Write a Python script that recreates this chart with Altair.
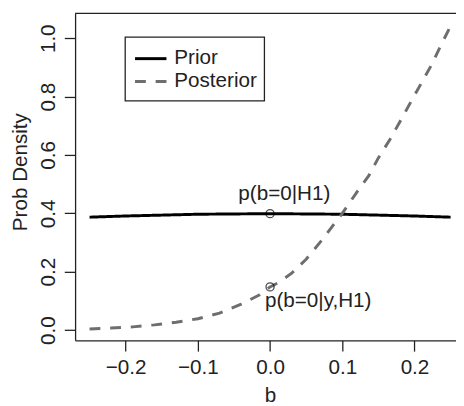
import altair as alt
import pandas as pd

# ---- data ----
prior_b = [-0.25, -0.20, -0.15, -0.10, -0.05, 0.00, 0.05, 0.10, 0.15, 0.20, 0.25]
prior_p = [0.387, 0.391, 0.394, 0.397, 0.398, 0.399, 0.398, 0.397, 0.394, 0.391, 0.387]

post_b = [-0.25, -0.22, -0.19, -0.16, -0.13, -0.10, -0.07, -0.04, -0.015, 0.0, 0.012,
          0.03, 0.05, 0.07, 0.087, 0.10, 0.12, 0.137, 0.15, 0.166, 0.18, 0.195,
          0.209, 0.223, 0.236, 0.25]
post_p = [0.004, 0.007, 0.011, 0.018, 0.027, 0.039, 0.058, 0.089, 0.12, 0.148, 0.163,
          0.195, 0.243, 0.303, 0.358, 0.400, 0.472, 0.530, 0.590, 0.653, 0.715, 0.782,
          0.844, 0.906, 0.973, 1.042]

point_b = [0.0, 0.0]
point_p = [0.399, 0.148]

label_text = ["p(b=0|H1)", "p(b=0|y,H1)"]
label_b = [0.0197, -0.007]
label_p = [0.445, 0.078]

x_ticks = [-0.2, -0.1, 0.0, 0.1, 0.2]
y_ticks = [0.0, 0.2, 0.4, 0.6, 0.8, 1.0]
legend_names = ["Prior", "Posterior"]

FONT = "Liberation Sans"
FS = 21
INK = "#222222"
GRAY = "#6e6e6e"

W, H = 387.7, 332.7

lines = pd.concat([
    pd.DataFrame({"b": prior_b, "p": prior_p, "s": "Prior"}),
    pd.DataFrame({"b": post_b, "p": post_p, "s": "Posterior"}),
])
pts = pd.DataFrame({"b": point_b, "p": point_p})
lab1 = pd.DataFrame({"b": label_b[:1], "p": label_p[:1], "t": label_text[:1]})
lab2 = pd.DataFrame({"b": label_b[1:], "p": label_p[1:], "t": label_text[1:]})

xs = alt.Scale(domain=[-0.27, 0.2575], nice=False, zero=False)
ys = alt.Scale(domain=[-0.035, 1.085], nice=False, zero=False)

xax = alt.Axis(values=x_ticks, format=".1f", title="b", grid=False,
               tickSize=11, labelPadding=23, labelBaseline="alphabetic",
               titleX=198.4, titleY=62.3, titleBaseline="alphabetic", titleAlign="center")
yax = alt.Axis(values=y_ticks, format=".1f", title="Prob Density", grid=False,
               tickSize=11, labelPadding=10.3, labelAngle=270, labelAlign="center",
               labelBaseline="alphabetic",
               titleAngle=270, titleX=-49.6, titleY=161, titleAlign="center",
               titleBaseline="alphabetic")

base_lines = alt.Chart(lines).mark_line(strokeWidth=3, clip=True).encode(
    x=alt.X("b:Q", scale=xs, axis=xax),
    y=alt.Y("p:Q", scale=ys, axis=yax),
    color=alt.Color("s:N", scale=alt.Scale(domain=legend_names, range=["black", GRAY]), legend=None),
    strokeDash=alt.StrokeDash("s:N", scale=alt.Scale(domain=legend_names, range=[[1, 0], [11, 10]]), legend=None),
    detail="s:N",
)

circles = alt.Chart(pts).mark_point(shape="circle", filled=False, size=68, color="black",
                                    strokeWidth=1.3).encode(
    x=alt.X("b:Q", scale=xs), y=alt.Y("p:Q", scale=ys))

t1 = alt.Chart(lab1).mark_text(font=FONT, fontSize=FS, align="center", baseline="alphabetic",
                               color=INK).encode(
    x=alt.X("b:Q", scale=xs), y=alt.Y("p:Q", scale=ys), text="t:N")
t2 = alt.Chart(lab2).mark_text(font=FONT, fontSize=FS, align="left", baseline="alphabetic",
                               color=INK).encode(
    x=alt.X("b:Q", scale=xs), y=alt.Y("p:Q", scale=ys), text="t:N")

# top border of the box
top_rule = alt.Chart(pd.DataFrame({"k": [0]})).mark_rule(color=INK, strokeWidth=1.3).encode(
    x=alt.value(0), x2=alt.value(W), y=alt.value(0))

# legend box
leg_df = pd.DataFrame({"k": [0]})
leg_box = alt.Chart(leg_df).mark_rect(fill="white", stroke=INK, strokeWidth=1.3).encode(
    x=alt.value(51), x2=alt.value(192.7), y=alt.value(24), y2=alt.value(89))
leg_prior = alt.Chart(leg_df).mark_rule(color="black", strokeWidth=3).encode(
    x=alt.value(61), x2=alt.value(93), y=alt.value(46))
leg_post = alt.Chart(leg_df).mark_rule(color=GRAY, strokeWidth=3, strokeDash=[11, 10]).encode(
    x=alt.value(61), x2=alt.value(93), y=alt.value(69.3))
leg_t1 = alt.Chart(leg_df).mark_text(font=FONT, fontSize=FS, align="left", baseline="alphabetic",
                                     color=INK, text=legend_names[0]).encode(
    x=alt.value(101), y=alt.value(51.7))
leg_t2 = alt.Chart(leg_df).mark_text(font=FONT, fontSize=FS, align="left", baseline="alphabetic",
                                     color=INK, text=legend_names[1]).encode(
    x=alt.value(101), y=alt.value(75))

chart = alt.layer(
    base_lines, circles, t1, t2, top_rule, leg_box, leg_prior, leg_post, leg_t1, leg_t2
).properties(
    width=W, height=H,
    autosize=alt.AutoSizeParams(type="none"),
    padding={"left": 68.3, "top": 2, "right": 0, "bottom": 63.3},
    background="white",
).configure_view(stroke=None).configure_axis(
    domainColor=INK, domainWidth=1.3, tickColor=INK, tickWidth=1.3,
    labelFont=FONT, labelFontSize=FS, labelColor=INK,
    titleFont=FONT, titleFontSize=FS, titleColor=INK, titleFontWeight="normal",
    labelOverlap=False, labelFlush=False,
)

chart.save("out.html", embed_options={"renderer": "svg", "actions": False})
